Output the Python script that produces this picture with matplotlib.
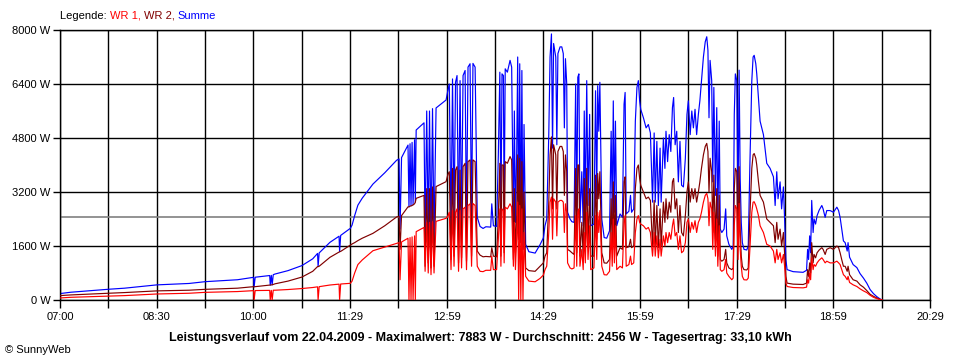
import matplotlib
matplotlib.use("Agg")
import matplotlib.pyplot as plt
import numpy as np

# minutes after 07:00
T = [
    0, 10, 30, 45, 60, 90, 120, 135, 165, 180, 180.5, 181.5, 195, 195.5, 196.5, 197.3, 198.3, 200, 212, 225, 235, 239.5, 240, 241, 251, 259.5, 260, 261, 270,
    271.6, 274, 277, 281, 291, 302, 313, 315.3, 316.2, 317.6, 323.6, 324.5, 325.5, 326.4, 327.4, 328.3, 329.7, 330.4, 331.2, 338.5,
    339.5, 341, 342.4, 343.6, 345, 346.4, 347.8, 349.7, 359, 360.8, 362, 363.6, 365, 366.4, 367.8, 369.2, 370.6, 372, 373.4, 374.8,
    376.7, 378, 379.4, 381.3, 382.7, 384, 386, 388, 390.6, 393.4,
    396, 400.5, 401.5, 403, 406, 407.6, 409, 410, 411, 412.3, 413, 414, 416, 418.5, 420, 421.6, 422.5, 423.5, 424.7, 425.6,
    426.5, 427.5, 428.5, 429.5, 430.5, 431.5, 433, 436, 441.8, 446.4, 449.5, 451, 452.6, 454.5, 455.7, 457, 458, 459, 461, 462,
    463, 465, 466.6, 468, 469, 470, 471.2, 472, 474.3, 476, 478, 479.5, 480.5, 481.5, 482.5, 483.5, 485.2, 486.5, 487.5, 488.5,
    489.8, 491, 492.5, 493.5, 496.5, 498, 499.1, 500, 501, 502, 503.8, 506, 508.4, 511, 512.5, 513.5, 514.5, 515.5, 516.5, 517.7,
    520.8, 523, 524.5, 525.5, 526.5, 529, 530.5, 531.5, 533.5,
    535, 536.5, 537.8, 539, 540, 542.5, 545, 547.1, 549, 551, 552.5, 553.5, 555, 556.4, 558, 559, 561.1, 562.5, 563.5, 565,
    566.5, 568, 569.5, 570.6, 572, 573.5, 575, 576.5, 578, 579.7, 581.5, 583, 584.3, 586, 587.5, 589, 590.5, 592, 593.6, 595,
    596.5, 598.3, 600, 601.4, 602.5, 603.5, 604.5, 606, 607, 608, 609.5, 610.7, 611.7, 613, 614, 615.4, 617.5, 619, 620, 622,
    624.7, 626, 627, 628, 629.3, 630.5, 631.5, 632.5, 633.5, 634.5, 636, 638.6, 640, 641.5, 643.3, 644.5, 645.5, 647, 647.9, 649.5,
    651, 654.1, 657.2, 660.3, 663.4, 665, 666.5, 667.7, 669.6, 671, 672.7, 673.8, 675, 676.1, 681.7, 691, 694.2, 695.2, 696.1, 697.1,
    698, 699, 700.3, 701.2, 702.6, 704, 705.9, 708.4, 709.6, 711.5, 713, 716.1, 719.2, 722.4, 724, 725.4, 727, 728.5, 730.1, 732,
    732.8, 734.2, 737.5, 741, 744, 747.1, 750.2, 753.3, 756.4, 759.5, 762.6, 764.5,
]

WR1 = [
    60, 80, 100, 118, 130, 178, 200, 227, 250, 277, 0, 280, 285, 0, 285, 0, 290, 290, 310, 340, 370, 390, 0, 395, 444, 470, 0, 474, 494,
    560, 800, 1050, 1185, 1460, 1570, 1680, 1700, 600, 1720, 1830, 0, 1850, 0, 1870, 0, 1900, 0, 2025, 2150,
    850, 2300, 800, 2300, 750, 2320, 800, 2330, 2420, 2500, 2600, 900, 2650, 1000, 2600, 2700, 850, 2650, 950, 2700,
    2750, 900, 2800, 2850, 1000, 2860, 2800, 1000, 850, 840,
    880, 880, 1300, 900, 900, 1800, 2700, 1000, 2700, 2650, 1100, 2750, 2700, 2850, 2750, 1000, 2300, 900, 1900, 2900,
    0, 2800, 0, 2700, 0, 2000, 700, 560, 540, 640, 740, 900, 1000, 2000, 2900, 3050, 1800, 3000, 2900, 1900,
    2900, 2950, 2950, 2900, 2000, 2850, 2600, 1100, 950, 920, 950, 2500, 1000, 2600, 2700, 1000, 1500, 900, 2000, 1100,
    2600, 1200, 2200, 900, 950, 2500, 1200, 2600, 2000, 2650, 1000, 750, 741, 850, 2000, 1000, 2400, 1100, 2200, 900,
    1000, 950, 2300, 2500, 1000, 1050, 1300, 1050, 1100,
    2000, 2400, 2500, 2300, 2250, 2200, 2100, 2150, 2000, 1300, 2000, 1300, 1900, 1250, 1800, 1300, 1900, 1600, 2000, 1700,
    2000, 1800, 2200, 2400, 1900, 2000, 1500, 1900, 1400, 1450, 1700, 2300, 2400, 2000, 2300, 2100, 2350, 2000, 2300, 2400,
    2600, 2900, 3100, 3160, 3000, 2200, 2900, 2700, 1500, 2600, 1300, 2400, 1000, 2200, 900, 850, 900, 1200, 800, 700,
    600, 650, 2200, 2800, 2700, 1200, 2860, 1500, 1000, 700, 600, 593, 650, 1500, 2600, 2900, 2910, 2800, 2700, 2500,
    2200, 2000, 1650, 1600, 1450, 1100, 1500, 1200, 1400, 1100, 1350, 1000, 500, 400, 370, 360, 380, 600, 500, 800,
    600, 1250, 900, 1050, 1000, 1100, 1180, 1250, 1200, 1100, 1150, 1100, 1100, 1150, 1100, 1050, 900, 750, 700, 600,
    700, 520, 450, 400, 330, 270, 220, 140, 80, 40, 10, 0,
]

WR2 = [
    130, 150, 180, 200, 220, 270, 290, 316, 350, 395, 390, 395, 440, 440, 445, 450, 460, 480, 560, 680, 850, 990, 990, 1000, 1264, 1420, 1430, 1440, 1630,
    1660, 1700, 1760, 1830, 1975, 2200, 2460, 2480, 1500, 2500, 2760, 2760, 2780, 2790, 2800, 2820, 2850, 2900, 3012, 3100,
    1000, 3300, 1100, 3300, 950, 3350, 1000, 3360, 3506, 3733, 3800, 1200, 3900, 1300, 3850, 3950, 1100, 3850, 1250, 3950,
    4050, 1150, 4100, 4150, 1300, 4150, 4100, 1450, 1330, 1280,
    1290, 1280, 1550, 1300, 1280, 2500, 4050, 1300, 4000, 4000, 1400, 4100, 4050, 4250, 4150, 1200, 3300, 1400, 2500, 4300,
    1800, 4200, 1700, 4100, 1500, 3200, 950, 870, 850, 1000, 1100, 1300, 1400, 2900, 4300, 4833, 2700, 4600, 4300, 2700,
    4400, 4550, 4550, 4400, 3100, 4300, 3800, 1500, 1450, 1400, 1350, 3900, 1400, 4000, 4000, 1300, 2300, 1300, 3600, 1500,
    3900, 1600, 3300, 1300, 1300, 3700, 1800, 3750, 3000, 3800, 1400, 1100, 1090, 1200, 3000, 1500, 3500, 1500, 3100, 1300,
    1550, 1500, 3500, 3650, 1550, 1580, 1800, 1550, 1600,
    3300, 3900, 4000, 3600, 3400, 3200, 3000, 3050, 2950, 1600, 2950, 1600, 2800, 1550, 2700, 1600, 2900, 2300, 3000, 2400,
    2900, 2600, 3500, 3600, 2700, 3000, 2000, 2800, 2000, 1900, 2500, 3200, 3500, 2900, 3300, 3000, 3300, 2900, 3200, 3500,
    3900, 4300, 4550, 4640, 4400, 3200, 4200, 3800, 2000, 3700, 1800, 3300, 1300, 3100, 1200, 1150, 1200, 1500, 1100, 950,
    900, 950, 3300, 3900, 3800, 1600, 3950, 2100, 1300, 1000, 900, 889, 950, 2500, 3900, 4300, 4340, 4200, 4000, 3500,
    3100, 2900, 2400, 2300, 2200, 1700, 2300, 1800, 2100, 1600, 2000, 1400, 700, 500, 470, 460, 500, 900, 700, 1100,
    800, 1700, 1100, 1350, 1250, 1400, 1480, 1550, 1500, 1350, 1500, 1550, 1500, 1600, 1550, 1400, 1185, 1000, 1000, 850,
    1000, 750, 600, 560, 450, 380, 280, 170, 110, 60, 20, 0,
]

assert len(T) == len(WR1) == len(WR2)
SUMME = [a + b for a, b in zip(WR1, WR2)]

AVERAGE = 2456
X_END = 809  # 20:29
X_LABELS = ["07:00", "08:30", "10:00", "11:29", "12:59", "14:29", "15:59", "17:29", "18:59", "20:29"]
Y_TICKS = [0, 1600, 3200, 4800, 6400, 8000]
Y_LABELS = ["0 W", "1600 W", "3200 W", "4800 W", "6400 W", "8000 W"]
TITLE = "Leistungsverlauf vom 22.04.2009 - Maximalwert: 7883 W - Durchschnitt: 2456 W - Tagesertrag: 33,10 kWh"

FONT = "Liberation Sans"
C_WR1 = "#FF0000"
C_WR2 = "#800000"
C_SUM = "#0000FF"

fig = plt.figure(figsize=(9.6, 3.6), dpi=100, facecolor="white")
ax = fig.add_axes([60 / 960, 60 / 360, 870 / 960, 270 / 360])
ax.set_xlim(0, X_END)
ax.set_ylim(0, 8000)

xt = np.linspace(0, X_END, 19)
ax.set_xticks(xt)
labels = []
for i in range(len(xt)):
    labels.append(X_LABELS[i // 2] if i % 2 == 0 else "")
ax.set_xticklabels(labels, fontsize=8, family=FONT)
ax.set_yticks(Y_TICKS)
ax.set_yticklabels(Y_LABELS, fontsize=8, family=FONT)
ax.tick_params(axis="x", length=6, width=1, color="black", pad=3)
ax.tick_params(axis="y", length=5, width=1, color="black", pad=2)

ax.set_axisbelow(True)
ax.grid(True, color="black", linewidth=1)
for s in ax.spines.values():
    s.set_color("black")
    s.set_linewidth(1)

ax.axhline(AVERAGE, color="#808080", linewidth=1.2, zorder=1.5)

ax.plot(T, SUMME, color=C_SUM, linewidth=0.85, zorder=2)
ax.plot(T, WR2, color=C_WR2, linewidth=0.85, zorder=3)
ax.plot(T, WR1, color=C_WR1, linewidth=0.85, zorder=4)

# legend line at the top
renderer = fig.canvas.get_renderer()
parts = [("Legende: ", "black"), ("WR 1, ", C_WR1), ("WR 2, ", C_WR2), ("Summe", C_SUM)]
x = 60 / 960
for s, c in parts:
    t = fig.text(x, 1 - 16 / 360, s, color=c, fontsize=8, family=FONT, ha="left", va="center")
    bb = t.get_window_extent(renderer)
    x = bb.x1 / fig.bbox.width

fig.text(480 / 960, 1 - 338 / 360, TITLE, fontsize=9, fontweight="bold", family=FONT, ha="center", va="center")
fig.text(5 / 960, 1 - 350 / 360, "\u00a9 SunnyWeb", fontsize=8, family=FONT, ha="left", va="center")

fig.savefig("out.png", dpi=100, facecolor="white")
